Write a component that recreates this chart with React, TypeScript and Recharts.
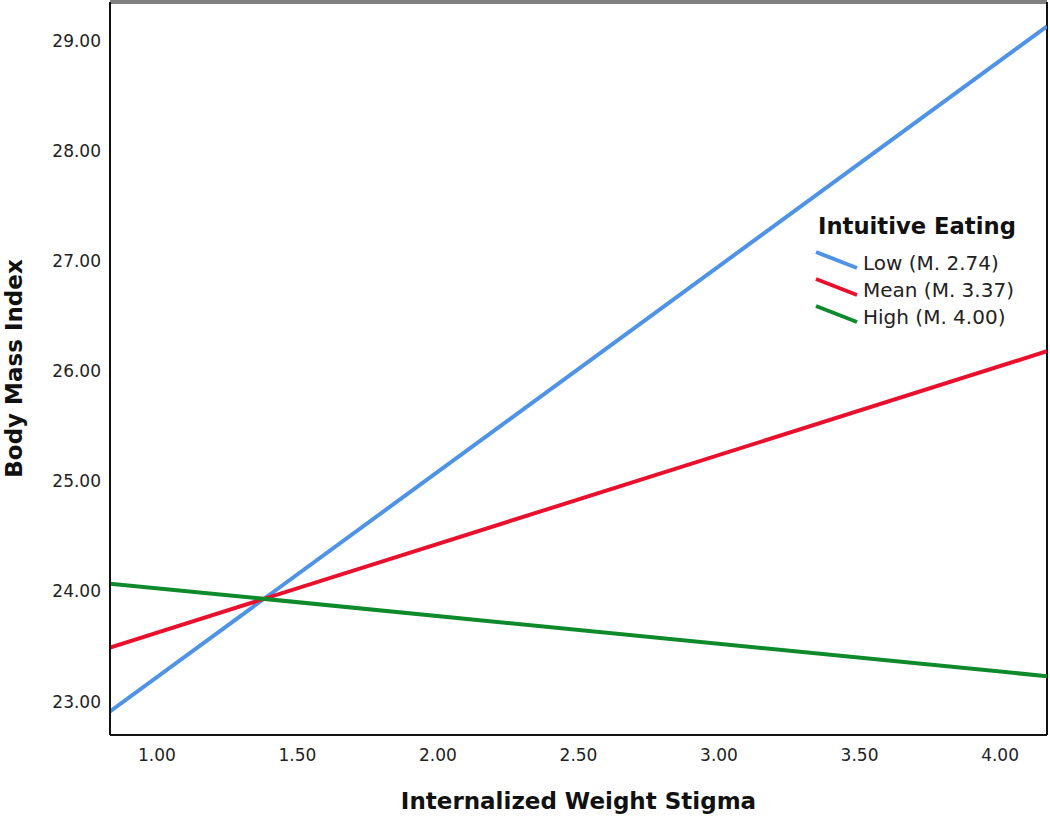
import { LineChart, Line, XAxis, YAxis, Legend, ReferenceLine } from "recharts";

// stigma values at the left and right edge of the plot
const stigma = [0.833, 4.167];
const lowEating = [22.91, 29.13];
const meanEating = [23.49, 26.18];
const highEating = [24.07, 23.23];

const xTicks = [1, 1.5, 2, 2.5, 3, 3.5, 4];
const yTicks = [23, 24, 25, 26, 27, 28, 29];

const seriesNames = ["Low (M. 2.74)", "Mean (M. 3.37)", "High (M. 4.00)"];
const seriesKeys = ["low", "mean", "high"];
const seriesColors = ["#4f93e6", "#e8102c", "#0e8a2a"];

const xMin = 0.833;
const xMax = 4.167;
const yMin = 22.696;
const yMax = 29.351;

const data = stigma.map((x, i) => ({
  x,
  low: lowEating[i],
  mean: meanEating[i],
  high: highEating[i],
}));

const font = "DejaVu Sans";

function EatingLegend() {
  return (
    <svg width={240} height={130} style={{ fontFamily: font }}>
      <text x={18} y={34} fontSize={22.7} fontWeight="bold" fill="#111">
        Intuitive Eating
      </text>
      {seriesNames.map((name, i) => {
        const top = 52 + i * 27;
        return (
          <g key={name}>
            <line
              x1={16}
              y1={top}
              x2={57}
              y2={top + 16}
              stroke={seriesColors[i]}
              strokeWidth={4}
            />
            <text x={63} y={top + 18} fontSize={20} fill="#222">
              {name}
            </text>
          </g>
        );
      })}
    </svg>
  );
}

export default function App() {
  return (
    <div style={{ position: "absolute", left: 0, top: 0 }}>
      <LineChart
        width={1050}
        height={819}
        data={data}
        margin={{ top: 2, right: 3, left: 0, bottom: 0 }}
        style={{ fontFamily: font }}
      >
        <XAxis
          dataKey="x"
          type="number"
          domain={[xMin, xMax]}
          ticks={xTicks}
          allowDataOverflow
          tickFormatter={(v: number) => v.toFixed(2)}
          tickLine={false}
          tickSize={0}
          tickMargin={14}
          height={84}
          axisLine={{ stroke: "#111", strokeWidth: 2 }}
          tick={{ fill: "#222", fontSize: 17 }}
          label={{
            value: "Internalized Weight Stigma",
            position: "insideBottom",
            offset: 10,
            fontSize: 23,
            fontWeight: "bold",
            fill: "#111",
          }}
        />
        <YAxis
          type="number"
          domain={[yMin, yMax]}
          ticks={yTicks}
          allowDataOverflow
          tickFormatter={(v: number) => v.toFixed(2)}
          tickLine={false}
          tickSize={0}
          tickMargin={9}
          width={110}
          axisLine={{ stroke: "#111", strokeWidth: 2 }}
          tick={{ fill: "#222", fontSize: 17 }}
          label={{
            value: "Body Mass Index",
            angle: -90,
            position: "insideLeft",
            offset: 14,
            fontSize: 23,
            fontWeight: "bold",
            fill: "#111",
            style: { textAnchor: "middle" },
          }}
        />
        <ReferenceLine y={yMax} stroke="#808080" strokeWidth={4} />
        <ReferenceLine x={xMax} stroke="#111" strokeWidth={2} />
        {seriesKeys.map((key, i) => (
          <Line
            key={key}
            dataKey={key}
            name={seriesNames[i]}
            type="linear"
            stroke={seriesColors[i]}
            strokeWidth={4}
            dot={false}
            isAnimationActive={false}
          />
        ))}
        <Legend
          layout="vertical"
          align="center"
          verticalAlign="middle"
          content={() => <EatingLegend />}
          wrapperStyle={{ position: "absolute", left: 800, top: 200, width: 240 }}
        />
      </LineChart>
    </div>
  );
}
